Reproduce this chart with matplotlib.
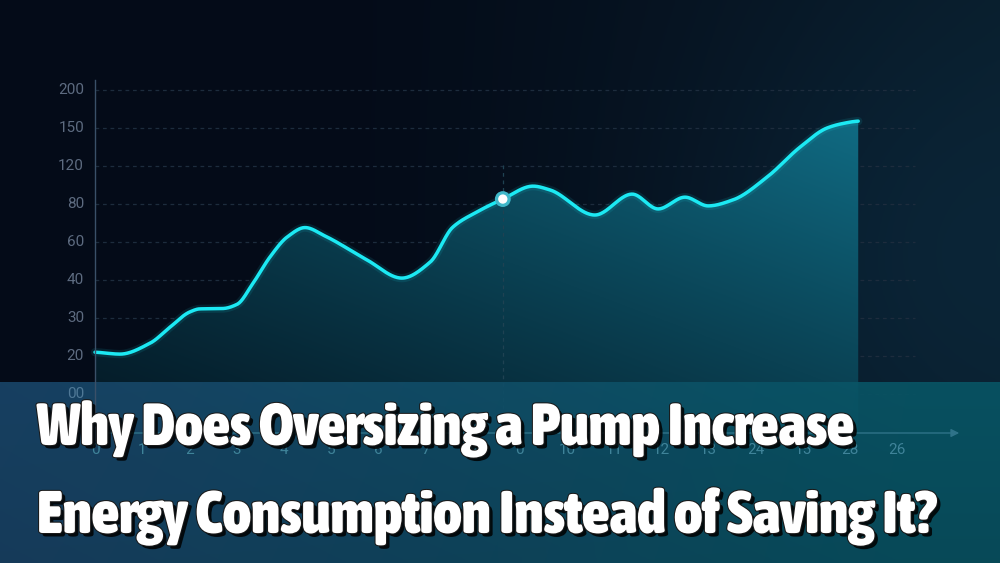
import numpy as np
import matplotlib
matplotlib.use("Agg")
import matplotlib.pyplot as plt
from matplotlib.path import Path
from matplotlib.patches import PathPatch
import matplotlib.patheffects as pe
from matplotlib import font_manager as fm

# ---------------- data ----------------
y_labels = ["00", "20", "30", "40", "60", "80", "120", "150", "200"]
x_labels = ["0", "1", "2", "3", "4", "5", "6", "7", "8", "0", "10", "11", "12",
            "13", "24", "15", "28", "26"]
# curve, x in tick-index units, y in label-position units
curve_x = [0.00, 0.53, 1.17, 1.59, 2.01, 2.22, 2.71, 3.01, 3.35, 3.71, 4.07,
           4.45, 4.87, 5.76, 6.50, 7.10, 7.58, 8.09, 8.64, 9.28, 9.64, 10.59,
           11.38, 11.93, 12.50, 12.99, 13.52, 14.24, 14.94, 15.51, 15.85, 16.17]
curve_y = [1.10, 1.05, 1.34, 1.76, 2.16, 2.24, 2.25, 2.36, 2.92, 3.61, 4.13,
           4.38, 4.16, 3.53, 3.05, 3.47, 4.39, 4.79, 5.13, 5.47, 5.37, 4.71,
           5.26, 4.87, 5.18, 4.95, 5.11, 5.71, 6.50, 7.00, 7.12, 7.18]
marker_x = 8.64
marker_y = 5.13
title_lines = ["Why Does Oversizing a Pump Increase",
               "Energy Consumption Instead of Saving It?"]


def pchip(x, y, xn):
    x = np.asarray(x, float)
    y = np.asarray(y, float)
    h = np.diff(x)
    d = np.diff(y) / h
    n = len(x)
    m = np.zeros(n)
    for k in range(1, n - 1):
        if d[k - 1] * d[k] <= 0:
            m[k] = 0.0
        else:
            w1 = 2 * h[k] + h[k - 1]
            w2 = h[k] + 2 * h[k - 1]
            m[k] = (w1 + w2) / (w1 / d[k - 1] + w2 / d[k])
    m[0] = d[0] * 0.5
    m[-1] = d[-1] * 0.3
    idx = np.clip(np.searchsorted(x, xn) - 1, 0, n - 2)
    t = (xn - x[idx]) / h[idx]
    h00 = 2 * t**3 - 3 * t**2 + 1
    h10 = t**3 - 2 * t**2 + t
    h01 = -2 * t**3 + 3 * t**2
    h11 = t**3 - t**2
    return (h00 * y[idx] + h10 * h[idx] * m[idx] + h01 * y[idx + 1]
            + h11 * h[idx] * m[idx + 1])


def pick_title_font():
    wmap = {"ultralight": 200, "light": 300, "normal": 400, "regular": 400,
            "book": 400, "medium": 500, "roman": 400, "semibold": 600,
            "demibold": 600, "demi": 600, "bold": 700, "heavy": 800,
            "extra bold": 800, "black": 900}
    best, best_score = None, -1
    for f in fm.fontManager.ttflist:
        fn = f.fname.lower()
        if f.style != "normal" or "italic" in fn or "oblique" in fn:
            continue
        if "mono" in fn or "serif" in fn and "sans" not in fn:
            continue
        w = f.weight if isinstance(f.weight, (int, float)) else wmap.get(str(f.weight).lower(), 400)
        cond = ("condensed" in fn or "narrow" in fn or "condensed" in str(f.stretch)
                or "narrow" in f.name.lower())
        score = (1000 if cond else 0) + w
        if score > best_score:
            best, best_score = f, score
    if best is None:
        return fm.FontProperties(family="DejaVu Sans", weight="bold")
    return fm.FontProperties(fname=best.fname)


# ---------------- figure geometry ----------------
W, H = 1000, 563
XU, YU = 47.2, 38.0      # px per unit
X0, Y0 = 95, 394         # px of origin
fig = plt.figure(figsize=(W / 100, H / 100), dpi=100)
ax = fig.add_axes([0, 0, 1, 1])
xmin, xmax = -X0 / XU, (W - X0) / XU
ymin, ymax = (Y0 - H) / YU, Y0 / YU
ax.set_xlim(xmin, xmax)
ax.set_ylim(ymin, ymax)
ax.axis("off")


def px2x(p):
    return (p - X0) / XU


def px2y(p):
    return (Y0 - p) / YU


# ---------------- background ----------------
gx, gy = np.meshgrid(np.linspace(0, 1, 400), np.linspace(0, 1, 225))
c_left = np.array([4, 11, 24]) / 255
c_right = np.array([9, 28, 42]) / 255
fx = np.clip((gx - 0.3) / 0.7, 0, 1) ** 1.3
glow = np.exp(-(((gx - 0.92) / 0.25) ** 2 + ((gy - 0.45) / 0.45) ** 2))
bg = c_left[None, None, :] * (1 - fx[..., None]) + c_right[None, None, :] * fx[..., None]
bg = bg + glow[..., None] * np.array([2, 10, 14]) / 255
ax.imshow(np.clip(bg, 0, 1), extent=[xmin, xmax, ymin, ymax], origin="upper",
          aspect="auto", zorder=0)

# ---------------- grid ----------------
grid_right = px2x(915)
for i in range(len(y_labels)):
    ax.plot([0, grid_right], [i, i], color="#1d2c3d", lw=0.9,
            ls=(0, (3, 3)), zorder=1)
ax.plot([marker_x, marker_x], [px2y(165), px2y(433)], color="#1f4252",
        lw=0.9, ls=(0, (3, 3)), zorder=2.5)

# ---------------- curve + gradient fill ----------------
xs = np.linspace(curve_x[0], curve_x[-1], 900)
ys = pchip(curve_x, curve_y, xs)
fill_bottom = px2y(433)
verts = [(xs[0], fill_bottom)] + list(zip(xs, ys)) + [(xs[-1], fill_bottom)]
poly = Path(verts + [verts[0]], closed=True)
patch = PathPatch(poly, facecolor="none", edgecolor="none")
ax.add_patch(patch)
fxg, fyg = np.meshgrid(np.linspace(0, 1, 300), np.linspace(1, 0, 200))
dark = np.array([4, 22, 34]) / 255
light = np.array([16, 108, 132]) / 255
f = np.clip(0.05 + 0.5 * fyg + 0.45 * fxg, 0, 1) ** 1.2
img = dark[None, None, :] * (1 - f[..., None]) + light[None, None, :] * f[..., None]
im = ax.imshow(img, extent=[xs[0], xs[-1], fill_bottom, max(curve_y) + 0.2],
               origin="upper", aspect="auto", zorder=2)
im.set_clip_path(patch)

ax.plot(xs, ys, color="#19e8f2", lw=6, alpha=0.10, zorder=3,
        solid_capstyle="round")
ax.plot(xs, ys, color="#1ce9f3", lw=2.5, zorder=3.1, solid_capstyle="round")
ax.scatter([marker_x], [marker_y], s=130, color="#3fb7c9", zorder=4,
           edgecolors="none")
ax.scatter([marker_x], [marker_y], s=45, color="white", zorder=4.1,
           edgecolors="none")

# ---------------- y tick labels ----------------
for i, lab in enumerate(y_labels[1:], start=1):
    ax.text(px2x(84), i, lab, ha="right", va="center", fontsize=11,
            color="#5d6b80", family=["Roboto", "DejaVu Sans"], zorder=1.5)

# ---------------- banner ----------------
bx, by = np.meshgrid(np.linspace(0, 1, 400), np.linspace(0, 1, 60))
b_left = np.array([26, 70, 106]) / 255
b_right = np.array([8, 86, 102]) / 255
t = np.clip(bx * 1.1, 0, 1)
ban = b_left[None, None, :] * (1 - t[..., None]) + b_right[None, None, :] * t[..., None]
ban = ban * (1 - 0.08 * by[..., None])
banner_rgba = np.dstack([ban, np.full(bx.shape, 0.9)])
ax.imshow(banner_rgba, extent=[xmin, xmax, ymin, px2y(382)], origin="upper",
          aspect="auto", zorder=5)

# ---------------- axes lines (seen through banner) ----------------
ax.plot([0, 0], [px2y(80), px2y(440)], color="#3a5068", lw=1.0, zorder=5.5)
ax.annotate("", xy=(px2x(962), px2y(433)), xytext=(0, px2y(433)),
            arrowprops=dict(arrowstyle="-|>", color="#2f7389", lw=1.0,
                            mutation_scale=12), zorder=5.5)
for i, lab in enumerate(x_labels):
    ax.text(i, px2y(450), lab, ha="center", va="center", fontsize=11,
            color="#3f8399", family=["Roboto", "DejaVu Sans"], zorder=5.6)
ax.text(px2x(84), 0, y_labels[0], ha="right", va="center", fontsize=11,
        color="#4f7896", family=["Roboto", "DejaVu Sans"], zorder=5.6)

# ---------------- title ----------------
effects = [pe.withSimplePatchShadow(offset=(2.5, -2.5), shadow_rgbFace="black",
                                     alpha=0.85),
           pe.Stroke(linewidth=1.5, foreground="#1a1a1a"),
           pe.Normal()]
tfont = pick_title_font()
targets = [(445, 37, 853), (533, 37, 935)]
renderer = fig.canvas.get_renderer()
for txt, (base, left, right) in zip(title_lines, targets):
    fp = tfont.copy()
    fp.set_size(40)
    tx = ax.text(px2x(left), px2y(base), txt, ha="left", va="baseline",
                 fontproperties=fp, color="white", path_effects=effects,
                 zorder=7)
    wpx = tx.get_window_extent(renderer=renderer).width
    fp2 = tfont.copy()
    fp2.set_size(40 * (right - left) / wpx)
    tx.set_fontproperties(fp2)

fig.savefig("out.png", dpi=100, facecolor="#050b18")
